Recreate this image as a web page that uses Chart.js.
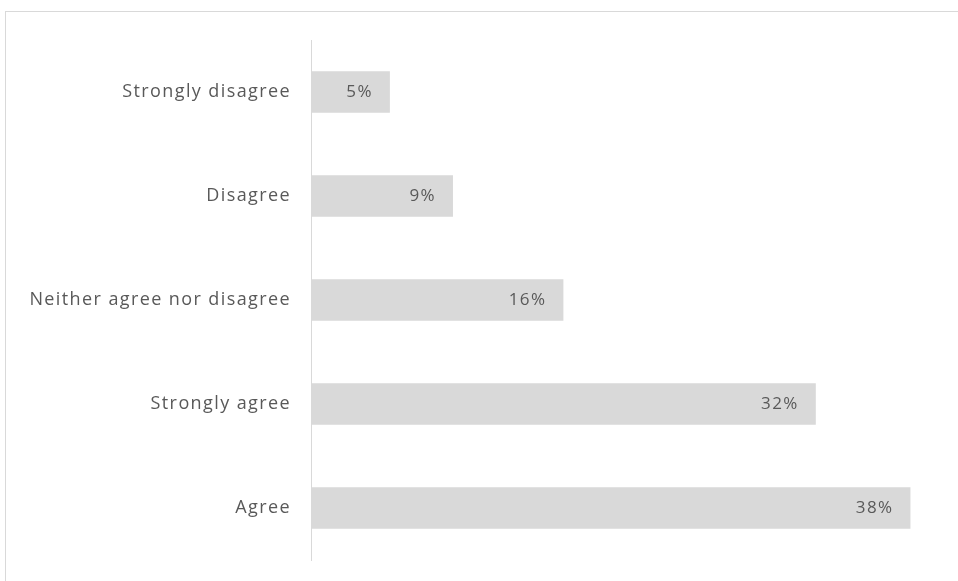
<!DOCTYPE html>
<html>
<head>
<meta charset="utf-8">
<script src="https://cdn.jsdelivr.net/npm/chart.js@4/dist/chart.umd.min.js"></script>
<style>
  html, body { margin: 0; padding: 0; background: #fff; }
  #wrap { position: relative; width: 958px; height: 581px; overflow: hidden; }
  #frame { position: absolute; left: 5px; top: 11px; width: 1000px; height: 1000px;
           border-top: 1px solid #d9d9d9; border-left: 1px solid #d9d9d9; }
  canvas { position: absolute; left: 0; top: 0; }
</style>
</head>
<body>
<div id="wrap">
  <div id="frame"></div>
  <canvas id="chart" width="958" height="581"></canvas>
</div>
<script>
// Survey answers, top to bottom
const categories = ['Strongly disagree', 'Disagree', 'Neither agree nor disagree', 'Strongly agree', 'Agree'];
const percents = [5, 9, 16, 32, 38];

const fontFamily = "'Open Sans', sans-serif";
const textColor = '#595959';
const spacing = '1.4px';

// wider letter spacing, like the original rendering
const letterSpacing = {
    id: 'letterSpacing',
    beforeDraw(chart) {
        chart.ctx.letterSpacing = spacing;
    }
};

// draws the value labels inside the end of each bar
const barLabels = {
    id: 'barLabels',
    afterDatasetsDraw(chart) {
        const ctx = chart.ctx;
        const meta = chart.getDatasetMeta(0);
        ctx.save();
        ctx.letterSpacing = spacing;
        ctx.font = '17px ' + fontFamily;
        ctx.fillStyle = textColor;
        ctx.textAlign = 'right';
        ctx.textBaseline = 'middle';
        meta.data.forEach((bar, i) => {
            ctx.fillText(percents[i] + '%', bar.x - 17, bar.y);
        });
        ctx.restore();
    }
};

new Chart(document.getElementById('chart').getContext('2d'), {
    type: 'bar',
    data: {
        labels: categories,
        datasets: [{
            data: percents,
            backgroundColor: '#d9d9d9',
            borderWidth: 0,
            categoryPercentage: 1,
            barPercentage: 0.4
        }]
    },
    options: {
        indexAxis: 'y',
        responsive: false,
        animation: false,
        layout: { padding: { top: 40, bottom: 21, left: 0, right: 16 } },
        plugins: {
            legend: { display: false },
            tooltip: { enabled: false }
        },
        scales: {
            x: {
                display: false,
                min: 0,
                max: 40
            },
            y: {
                grid: { display: false, drawTicks: false },
                border: { display: true, color: '#d9d9d9', width: 1 },
                ticks: {
                    color: textColor,
                    padding: 20,
                    font: { family: fontFamily, size: 18 }
                },
                afterFit(scale) {
                    scale.width = 311;
                    // tick padding should not eat into the plot height
                    scale.paddingTop = 0;
                    scale.paddingBottom = 0;
                }
            }
        }
    },
    plugins: [letterSpacing, barLabels]
});
</script>
</body>
</html>
